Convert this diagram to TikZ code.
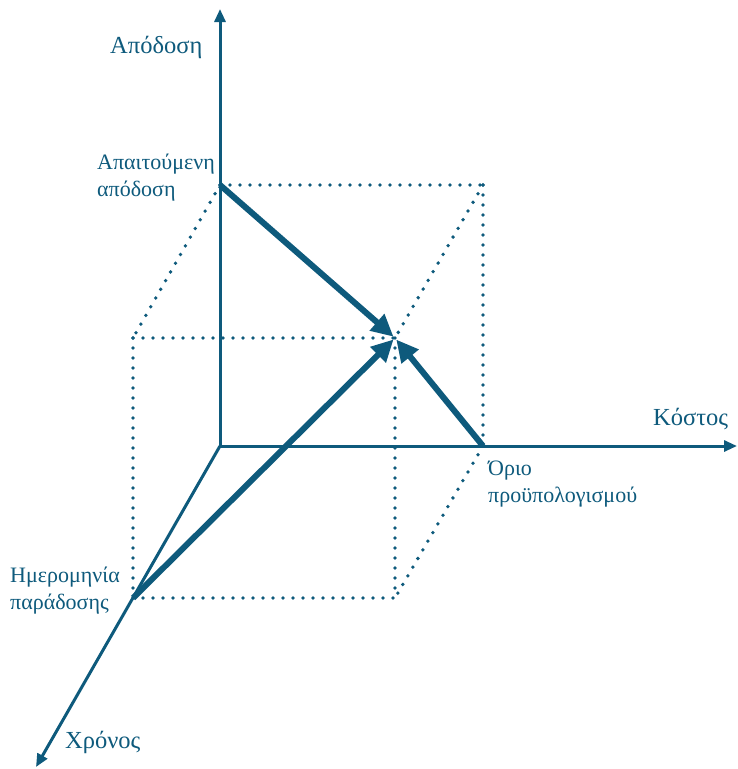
\documentclass[tikz,border=0pt]{standalone}
\usepackage{fontspec}
\setmainfont{Liberation Serif}
\usetikzlibrary{arrows.meta}
\definecolor{teal}{RGB}{14,90,124}
\tikzset{
  axis/.style={draw=teal, line width=3pt, -{Triangle[length=13pt,width=11pt]}},
  guide/.style={draw=teal, line width=3.8pt, line cap=round, dash pattern=on 0pt off 10pt},
  vec/.style={draw=teal, line width=6pt, -{Triangle[length=22pt,width=21pt]}, shorten >=2pt},
  lbl/.style={text=teal, font=\fontsize{22}{26}\selectfont, inner sep=0pt},
  ttl/.style={text=teal, font=\fontsize{24.5}{28}\selectfont, inner sep=0pt},
}
\begin{document}
\begin{tikzpicture}[x=1pt,y=-1pt]
\useasboundingbox (0,0) rectangle (737,769);
% corner points of the box
\coordinate (O) at (220,446);
\coordinate (P) at (220,185);
\coordinate (Pb) at (483,185);
\coordinate (C) at (483,446);
\coordinate (T) at (133,598);
\coordinate (Tt) at (133,338);
\coordinate (X) at (395,338);
\coordinate (Xb) at (395,598);
% axis ends
\coordinate (Ytop) at (220,9);
\coordinate (Xend) at (737,446);
\coordinate (Zend) at (36,767);
% dotted box edges
\draw[guide] (P) -- (Pb);
\draw[guide] (Pb) -- (C);
\draw[guide] (P) -- (Tt);
\draw[guide] (Pb) -- (X);
\draw[guide] (C) -- (Xb);
\draw[guide] (Tt) -- (X);
\draw[guide] (Tt) -- (T);
\draw[guide] (X) -- (Xb);
\draw[guide] (T) -- (Xb);
% axes
\draw[axis] (O) -- (Ytop);
\draw[axis] (O) -- (Xend);
\draw[axis] (O) -- (Zend);
% vectors to the target point
\draw[vec] (P) -- (X);
\draw[vec] (C) -- (X);
\draw[vec] (T) -- (X);
% labels
\node[ttl, anchor=base west] (la) at (110,53) {Απόδοση};
\node[lbl, anchor=base west] (lb) at (97,169) {Απαιτούμενη};
\node[lbl, anchor=base west] (lc) at (97,196) {απόδοση};
\node[ttl, anchor=base west] (ld) at (653,425) {Κόστος};
\node[lbl, anchor=base west] (le) at (488,475) {Όριο};
\node[lbl, anchor=base west] (lf) at (488,502) {προϋπολογισμού};
\node[lbl, anchor=base west] (lg) at (10,582) {Ημερομηνία};
\node[lbl, anchor=base west] (lh) at (10,609) {παράδοσης};
\node[ttl, anchor=base west] (li) at (65,748) {Χρόνος};
\end{tikzpicture}
\end{document}
